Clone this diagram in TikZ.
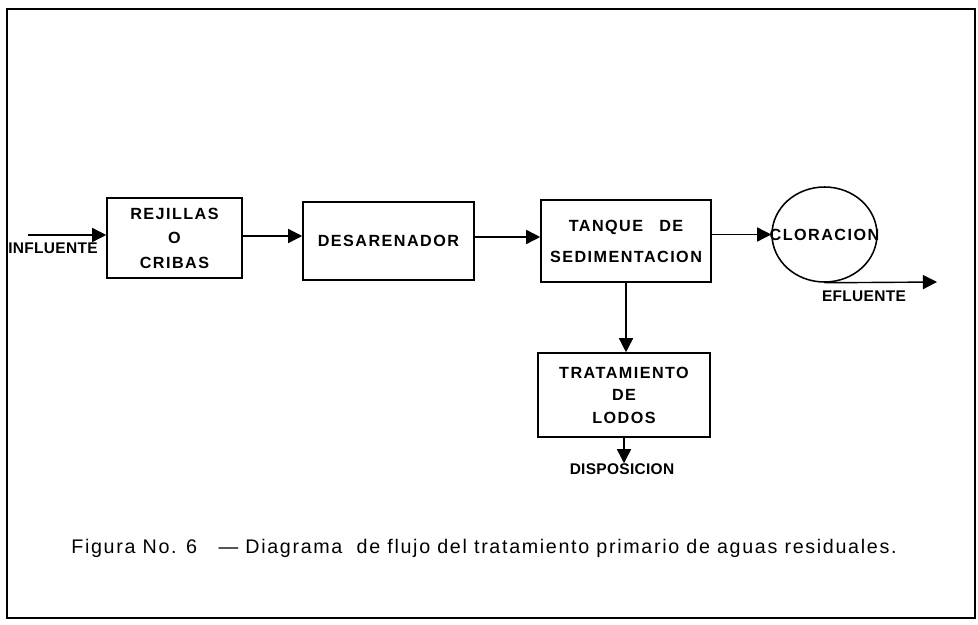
\documentclass[tikz,border=0pt]{standalone}
\usepackage{fontspec}
\setmainfont{Liberation Sans}
\newfontfamily\boxfont[LetterSpace=9]{Liberation Sans}
\newfontfamily\labfont[LetterSpace=2]{Liberation Sans}
\newfontfamily\capfont[LetterSpace=8.5]{Liberation Sans}
\usetikzlibrary{positioning,shapes.geometric,arrows.meta}

\begin{document}
\begin{tikzpicture}
                [x=0.025cm,y=-0.025cm,>={Triangle[length=10pt,width=10pt]},
                 stage/.style={draw,line width=1.1pt,align=center,inner sep=0pt,
                   font=\boxfont\bfseries\fontsize{11.5}{17.4}\selectfont},
                 label/.style={font=\labfont\bfseries\fontsize{11}{12}\selectfont,inner sep=0pt},
                 flow/.style={line width=1pt,->}]

                \useasboundingbox (0,0) rectangle (978,624);
                \draw[line width=1.4pt] (7,9) rectangle (975,618);

                \node[stage,minimum width=135*0.025cm,minimum height=80*0.025cm] (rejillas) at (174.5,238) {REJILLAS\\O\\CRIBAS};
                \node[stage,minimum width=171*0.025cm,minimum height=78*0.025cm] (desarenador) at (388.5,241) {DESARENADOR};
                \node[stage,minimum width=170*0.025cm,minimum height=82*0.025cm,
                      font=\boxfont\bfseries\fontsize{11.5}{22}\selectfont] (tanque) at (626,241) {TANQUE\quad DE\\SEDIMENTACION};
                \node[stage,ellipse,minimum width=105*0.025cm,minimum height=95*0.025cm] (cloracion) at (824.5,234.5) {};
                \node[font=\boxfont\bfseries\fontsize{11.5}{12}\selectfont,inner sep=0pt] (cloratext) at (cloracion) {CLORACION};
                \node[stage,minimum width=172*0.025cm,minimum height=84*0.025cm,
                      font=\boxfont\bfseries\fontsize{11.5}{16}\selectfont] (lodos) at (624,395) {TRATAMIENTO\\DE\\LODOS};

                % entrada y salida
                \coordinate (in) at (28,235);
                \coordinate (out) at (937,282);
                \node[label] (influente) at (53,248) {INFLUENTE};
                \node[label] (efluente) at (864,296) {EFLUENTE};
                \node[label] (disp) at (622,469) {DISPOSICION};

                \draw[flow] (in) -- (in -| rejillas.west);
                \draw[flow] (rejillas.east |- 0,236) -- (desarenador.west |- 0,236);
                \draw[flow] (desarenador.east |- 0,237) -- (tanque.west |- 0,237);
                \draw[flow] (tanque.east |- cloracion) -- (cloracion.west);
                \draw[flow] (cloracion.south) -- (out);
                \draw[flow] (tanque.south) -- (tanque.south |- lodos.north);
                \draw[flow] (lodos.south) -- (lodos.south |- disp.north);

                \node[font=\capfont\fontsize{14}{16}\selectfont] (caption) at (484,548)
                  {Figura No. 6 \ \ \textemdash\ Diagrama \ de flujo del tratamiento primario de aguas residuales.};

            \end{tikzpicture}
\end{document}
